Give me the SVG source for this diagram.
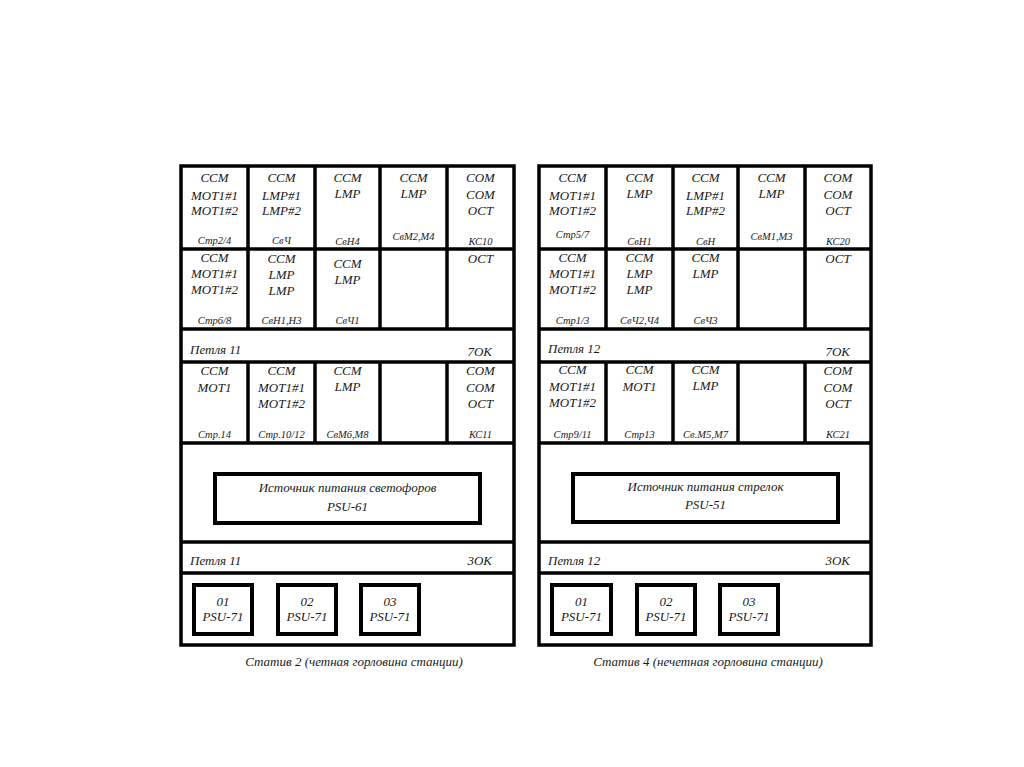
<svg xmlns="http://www.w3.org/2000/svg" width="1024" height="767" viewBox="0 0 1024 767">
<style>
.bx{fill:none;stroke:#000;stroke-width:3.5}
.ln{stroke:#000;stroke-width:3.5}
.ib{fill:#fff;stroke:#000;stroke-width:4}
text{font-family:"Liberation Serif","DejaVu Serif",serif;font-style:italic;fill:#1a1a1a;text-anchor:middle}
.t{font-size:13px}
.s{font-size:10.5px}
.l{text-anchor:start}
.r{text-anchor:end}
</style>
<rect width="1024" height="767" fill="#fff"/>

<!-- LEFT PANEL -->
<g id="panel-left">
<rect class="bx" x="181" y="166" width="333" height="479"/>
<line class="ln" x1="181" y1="249" x2="514" y2="249"/>
<line class="ln" x1="181" y1="329" x2="514" y2="329"/>
<line class="ln" x1="181" y1="362" x2="514" y2="362"/>
<line class="ln" x1="181" y1="443" x2="514" y2="443"/>
<line class="ln" x1="181" y1="542" x2="514" y2="542"/>
<line class="ln" x1="181" y1="573" x2="514" y2="573"/>
<line class="ln" x1="248" y1="166" x2="248" y2="329"/>
<line class="ln" x1="315" y1="166" x2="315" y2="329"/>
<line class="ln" x1="380" y1="166" x2="380" y2="329"/>
<line class="ln" x1="447" y1="166" x2="447" y2="329"/>
<line class="ln" x1="248" y1="362" x2="248" y2="443"/>
<line class="ln" x1="315" y1="362" x2="315" y2="443"/>
<line class="ln" x1="380" y1="362" x2="380" y2="443"/>
<line class="ln" x1="447" y1="362" x2="447" y2="443"/>
</g>
<g id="L-r1c1"><text class="t" x="214.5" y="182">CCM</text><text class="t" x="214.5" y="200">MOT1#1</text><text class="t" x="214.5" y="215">MOT1#2</text><text class="s" x="214.5" y="244">Стр2/4</text></g>
<g id="L-r1c2"><text class="t" x="281.5" y="182">CCM</text><text class="t" x="281.5" y="200">LMP#1</text><text class="t" x="281.5" y="215">LMP#2</text><text class="s" x="281.5" y="244">СвЧ</text></g>
<g id="L-r1c3"><text class="t" x="347.5" y="182">CCM</text><text class="t" x="347.5" y="198">LMP</text><text class="s" x="347.5" y="245">СвН4</text></g>
<g id="L-r1c4"><text class="t" x="413.5" y="182">CCM</text><text class="t" x="413.5" y="198">LMP</text><text class="s" x="413.5" y="240">СвМ2,М4</text></g>
<g id="L-r1c5"><text class="t" x="480.5" y="182">COM</text><text class="t" x="480.5" y="199">COM</text><text class="t" x="480.5" y="215">OCT</text><text class="s" x="480.5" y="245">КС10</text></g>
<g id="L-r2c1"><text class="t" x="214.5" y="262">CCM</text><text class="t" x="214.5" y="278">MOT1#1</text><text class="t" x="214.5" y="294">MOT1#2</text><text class="s" x="214.5" y="324">Стр6/8</text></g>
<g id="L-r2c2"><text class="t" x="281.5" y="263">CCM</text><text class="t" x="281.5" y="279">LMP</text><text class="t" x="281.5" y="295">LMP</text><text class="s" x="281.5" y="324">СвН1,Н3</text></g>
<g id="L-r2c3"><text class="t" x="347.5" y="268">CCM</text><text class="t" x="347.5" y="284">LMP</text><text class="s" x="347.5" y="324">СвЧ1</text></g>
<g id="L-r2c5"><text class="t" x="480.5" y="263">OCT</text></g>
<g id="L-loop1"><text class="t l" x="190" y="354">Петля 11</text><text class="t r" x="492" y="356">7ОК</text></g>
<g id="L-r3c1"><text class="t" x="214.5" y="375">CCM</text><text class="t" x="214.5" y="392">MOT1</text><text class="s" x="214.5" y="438">Стр.14</text></g>
<g id="L-r3c2"><text class="t" x="281.5" y="375">CCM</text><text class="t" x="281.5" y="392">MOT1#1</text><text class="t" x="281.5" y="408">MOT1#2</text><text class="s" x="281.5" y="438">Стр.10/12</text></g>
<g id="L-r3c3"><text class="t" x="347.5" y="375">CCM</text><text class="t" x="347.5" y="391">LMP</text><text class="s" x="347.5" y="438">СвМ6,М8</text></g>
<g id="L-r3c5"><text class="t" x="480.5" y="375">COM</text><text class="t" x="480.5" y="392">COM</text><text class="t" x="480.5" y="408">OCT</text><text class="s" x="480.5" y="438">КС11</text></g>
<g id="L-psu61"><rect class="ib" x="215" y="474" width="265" height="49"/><text class="t" x="347.5" y="492">Источник питания светофоров</text><text class="t" x="347.5" y="511">PSU-61</text></g>
<g id="L-loop2"><text class="t l" x="190" y="565">Петля 11</text><text class="t r" x="492" y="565">3ОК</text></g>
<g id="L-psu71-1"><rect class="ib" x="194" y="585" width="58" height="49"/><text class="t" x="223" y="606">01</text><text class="t" x="223" y="621">PSU-71</text></g>
<g id="L-psu71-2"><rect class="ib" x="278" y="585" width="58" height="49"/><text class="t" x="307" y="606">02</text><text class="t" x="307" y="621">PSU-71</text></g>
<g id="L-psu71-3"><rect class="ib" x="361" y="585" width="58" height="49"/><text class="t" x="390" y="606">03</text><text class="t" x="390" y="621">PSU-71</text></g>
<g id="L-caption"><text class="t" x="354" y="666">Статив 2 (четная горловина станции)</text></g>

<!-- RIGHT PANEL -->
<g id="panel-right">
<rect class="bx" x="539" y="166" width="332" height="479"/>
<line class="ln" x1="539" y1="249" x2="871" y2="249"/>
<line class="ln" x1="539" y1="329" x2="871" y2="329"/>
<line class="ln" x1="539" y1="362" x2="871" y2="362"/>
<line class="ln" x1="539" y1="443" x2="871" y2="443"/>
<line class="ln" x1="539" y1="542" x2="871" y2="542"/>
<line class="ln" x1="539" y1="573" x2="871" y2="573"/>
<line class="ln" x1="606" y1="166" x2="606" y2="329"/>
<line class="ln" x1="673" y1="166" x2="673" y2="329"/>
<line class="ln" x1="738" y1="166" x2="738" y2="329"/>
<line class="ln" x1="805" y1="166" x2="805" y2="329"/>
<line class="ln" x1="606" y1="362" x2="606" y2="443"/>
<line class="ln" x1="673" y1="362" x2="673" y2="443"/>
<line class="ln" x1="738" y1="362" x2="738" y2="443"/>
<line class="ln" x1="805" y1="362" x2="805" y2="443"/>
</g>
<g id="R-r1c1"><text class="t" x="572.5" y="182">CCM</text><text class="t" x="572.5" y="200">MOT1#1</text><text class="t" x="572.5" y="215">MOT1#2</text><text class="s" x="572.5" y="238">Стр5/7</text></g>
<g id="R-r1c2"><text class="t" x="639.5" y="182">CCM</text><text class="t" x="639.5" y="198">LMP</text><text class="s" x="639.5" y="245">СвН1</text></g>
<g id="R-r1c3"><text class="t" x="705.5" y="182">CCM</text><text class="t" x="705.5" y="200">LMP#1</text><text class="t" x="705.5" y="215">LMP#2</text><text class="s" x="705.5" y="245">СвН</text></g>
<g id="R-r1c4"><text class="t" x="771.5" y="182">CCM</text><text class="t" x="771.5" y="198">LMP</text><text class="s" x="771.5" y="240">СвМ1,М3</text></g>
<g id="R-r1c5"><text class="t" x="838" y="182">COM</text><text class="t" x="838" y="199">COM</text><text class="t" x="838" y="215">OCT</text><text class="s" x="838" y="245">КС20</text></g>
<g id="R-r2c1"><text class="t" x="572.5" y="262">CCM</text><text class="t" x="572.5" y="278">MOT1#1</text><text class="t" x="572.5" y="294">MOT1#2</text><text class="s" x="572.5" y="324">Стр1/3</text></g>
<g id="R-r2c2"><text class="t" x="639.5" y="262">CCM</text><text class="t" x="639.5" y="278">LMP</text><text class="t" x="639.5" y="294">LMP</text><text class="s" x="639.5" y="324">СвЧ2,Ч4</text></g>
<g id="R-r2c3"><text class="t" x="705.5" y="262">CCM</text><text class="t" x="705.5" y="278">LMP</text><text class="s" x="705.5" y="324">СвЧ3</text></g>
<g id="R-r2c5"><text class="t" x="838" y="263">OCT</text></g>
<g id="R-loop1"><text class="t l" x="548" y="353">Петля 12</text><text class="t r" x="850" y="356">7ОК</text></g>
<g id="R-r3c1"><text class="t" x="572.5" y="374">CCM</text><text class="t" x="572.5" y="391">MOT1#1</text><text class="t" x="572.5" y="407">MOT1#2</text><text class="s" x="572.5" y="438">Стр9/11</text></g>
<g id="R-r3c2"><text class="t" x="639.5" y="374">CCM</text><text class="t" x="639.5" y="391">MOT1</text><text class="s" x="639.5" y="438">Стр13</text></g>
<g id="R-r3c3"><text class="t" x="705.5" y="374">CCM</text><text class="t" x="705.5" y="390">LMP</text><text class="s" x="705.5" y="438">Св.М5,М7</text></g>
<g id="R-r3c5"><text class="t" x="838" y="375">COM</text><text class="t" x="838" y="392">COM</text><text class="t" x="838" y="408">OCT</text><text class="s" x="838" y="438">КС21</text></g>
<g id="R-psu51"><rect class="ib" x="573" y="474" width="265" height="48"/><text class="t" x="705.5" y="491">Источник питания стрелок</text><text class="t" x="705.5" y="509">PSU-51</text></g>
<g id="R-loop2"><text class="t l" x="548" y="565">Петля 12</text><text class="t r" x="850" y="565">3ОК</text></g>
<g id="R-psu71-1"><rect class="ib" x="552" y="585" width="59" height="49"/><text class="t" x="581.5" y="606">01</text><text class="t" x="581.5" y="621">PSU-71</text></g>
<g id="R-psu71-2"><rect class="ib" x="637" y="585" width="58" height="49"/><text class="t" x="666" y="606">02</text><text class="t" x="666" y="621">PSU-71</text></g>
<g id="R-psu71-3"><rect class="ib" x="720" y="585" width="58" height="49"/><text class="t" x="749" y="606">03</text><text class="t" x="749" y="621">PSU-71</text></g>
<g id="R-caption"><text class="t" x="708" y="666">Статив 4 (нечетная горловина станции)</text></g>
</svg>
